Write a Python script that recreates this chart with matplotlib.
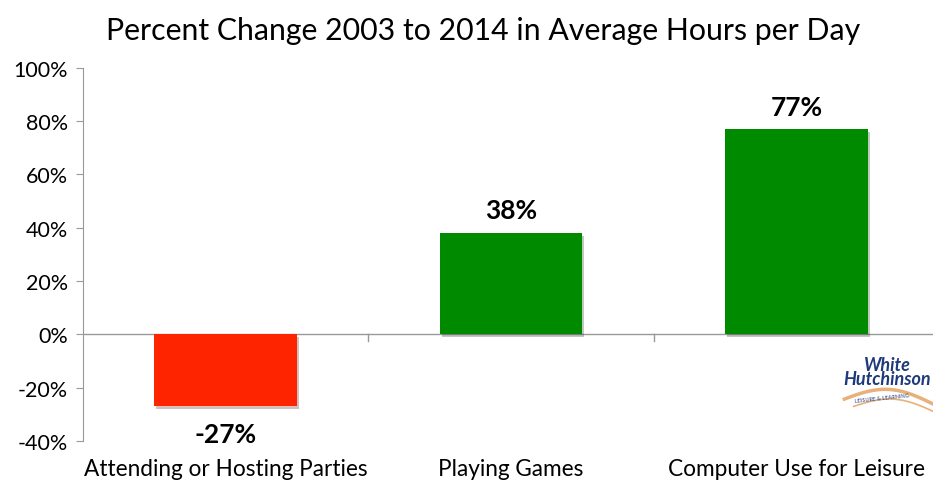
import numpy as np
import matplotlib.pyplot as plt
import matplotlib.patheffects as pe
from matplotlib.lines import Line2D
from matplotlib.ticker import FuncFormatter

categories = ['Attending or Hosting Parties', 'Playing Games', 'Computer Use for Leisure']
changes = [-27, 38, 77]
bar_colors = ['#ff2400', '#008a00', '#008a00']
yticks = [-40, -20, 0, 20, 40, 60, 80, 100]

plt.rcParams['font.family'] = ['Lato', 'DejaVu Sans']

fig = plt.figure(figsize=(9.33, 4.85), dpi=100)
ax = fig.add_axes([0.089, 0.0887, 0.9175, 0.7693])

x = range(len(categories))
shadow = [pe.SimplePatchShadow(offset=(1.5, -2), alpha=0.25), pe.Normal()]
bars = ax.bar(x, changes, width=0.5, color=bar_colors, zorder=3)
for b in bars:
    b.set_path_effects(shadow)

for xi, v in zip(x, changes):
    off = 4 if v > 0 else -6
    ax.text(xi, v + off, f'{v}%', ha='center', va='bottom' if v > 0 else 'top',
            fontsize=19, fontweight='bold', color='black')

ax.set_xlim(-0.5, 2.5)
ax.set_ylim(-40, 100)
ax.set_yticks(yticks)
ax.yaxis.set_major_formatter(FuncFormatter(lambda v, p: f'{v:.0f}%'))
ax.tick_params(axis='y', direction='out', length=5, color='#999999',
               labelsize=15.5, pad=6)
ax.set_xticks(list(x))
ax.set_xticklabels(categories)
ax.tick_params(axis='x', length=0, labelsize=16.3, pad=12)

for s in ['top', 'right', 'bottom']:
    ax.spines[s].set_visible(False)
ax.spines['left'].set_color('#999999')
ax.axhline(0, color='#999999', lw=1, zorder=2)
for bx in [0.5, 1.5]:
    ax.plot([bx, bx], [0, -2.4], color='#999999', lw=1, zorder=2)

fig.text(0.518, 0.937, 'Percent Change 2003 to 2014 in Average Hours per Day',
         ha='center', va='center', fontsize=21.8)

# logo
fig.text(0.951, 0.232, 'White\nHutchinson', ha='center', va='center',
         fontsize=13, fontweight='bold', style='italic', color='#1f3a7a',
         linespacing=0.75)
t = np.linspace(0, 1, 50)
fig.add_artist(Line2D(0.905 + 0.095 * t, 0.175 + 0.025 * np.sin(np.pi * t) - 0.01 * t,
                      transform=fig.transFigure, color='#e8b07a', lw=2.5))
fig.add_artist(Line2D(0.915 + 0.085 * t, 0.16 + 0.02 * np.sin(np.pi * t) - 0.01 * t,
                      transform=fig.transFigure, color='#e8b07a', lw=1.2))
fig.text(0.945, 0.178, 'LEISURE & LEARNING', ha='center', va='center',
         fontsize=4, color='#1f3a7a', rotation=6)

fig.savefig('out.png', dpi=100)
